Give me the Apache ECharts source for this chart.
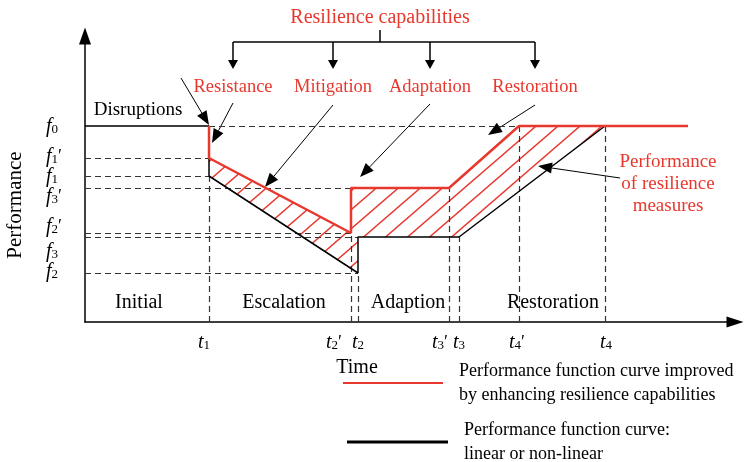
<!DOCTYPE html>
<html>
<head>
<meta charset="utf-8">
<script src="https://cdn.jsdelivr.net/npm/echarts@6/dist/echarts.min.js"></script>
<style>
  html, body { margin: 0; padding: 0; background: #fff; }
  #main { width: 754px; height: 462px; }
</style>
</head>
<body>
<div id="main"></div>
<script>
// time marks (x units) and performance levels (y units)
const tLabels = ['t1', "t2'", 't2', "t3'", 't3', "t4'", 't4']
const tValues = [124, 266, 273, 364, 374, 434, 520]
const tLabelAt = [119, 249, 273, 355, 374, 432, 521]

const fLabels = ['f0', "f1'", 'f1', "f3'", "f2'", 'f3', 'f2']
const fValues = [196, 164, 146, 134, 89, 85, 49]
const fLabelAt = [195, 165, 145, 125, 95, 70, 50]

// curves
const improvedX = [124, 124, 266, 266, 364, 434, 603]
const improvedY = [196, 164, 89, 134, 134, 196, 196]
const baselineX = [0, 124, 124, 273, 273, 374, 520]
const baselineY = [196, 196, 146, 49, 85, 85, 196]

const phaseNames = ['Initial', 'Escalation', 'Adaption', 'Restoration']
const phaseAt = [54, 199, 323, 468]

const capNames = ['Resistance', 'Mitigation', 'Adaptation', 'Restoration']
const capAt = [148, 248, 345, 450]

const nameImproved = 'Performance function curve improved\nby enhancing resilience capabilities'
const nameBase = 'Performance function curve:\nlinear or non-linear'

const RED = '#e8382e'
const FONT = '"Liberation Serif", "Times New Roman", serif'

const T = n => tValues[tLabels.indexOf(n)]
const F = n => fValues[fLabels.indexOf(n)]

// dashed guides
const guides = [
  [[0, F("f1'")], [T('t1'), F("f1'")]],
  [[0, F('f1')], [T('t1'), F('f1')]],
  [[0, F("f3'")], [T("t2'"), F("f3'")]],
  [[0, F("f2'")], [T("t2'"), F("f2'")]],
  [[0, F('f3')], [T('t2'), F('f3')]],
  [[0, F('f2')], [T('t2'), F('f2')]],
  [[T('t1'), F('f0')], [T("t4'"), F('f0')]],
  [[T('t1'), 0], [T('t1'), F('f1')]],
  [[T("t2'"), 0], [T("t2'"), F("f2'")]],
  [[T('t2'), 0], [T('t2'), F('f2')]],
  [[T("t3'"), 0], [T("t3'"), F("f3'")]],
  [[T('t3'), 0], [T('t3'), F('f3')]],
  [[T("t4'"), 0], [T("t4'"), F('f0')]],
  [[T('t4'), 0], [T('t4'), F('f0')]]
]

// hatched area between improved (top) and baseline (bottom) curves
const upper = improvedX.slice(1, 6).map((x, i) => [x, improvedY[i + 1]]).concat([[T('t4'), F('f0')]])
const lower = baselineX.slice(2).map((x, i) => [x, baselineY[i + 2]]).reverse()
const hatchPoly = upper.concat(lower)

const hatch = document.createElement('canvas')
hatch.width = 22
hatch.height = 19
const hc = hatch.getContext('2d')
hc.strokeStyle = RED
hc.lineWidth = 1.4
hc.beginPath()
hc.moveTo(0, 19); hc.lineTo(22, 0)
hc.moveTo(-5, 4); hc.lineTo(5, -4)
hc.moveTo(17, 23); hc.lineTo(27, 15)
hc.stroke()

const fmt = s => `{i|${s[0]}}{s|${s[1]}}` + (s[2] ? '{p|\u2032}' : '')
const labelRich = {
  i: { fontStyle: 'italic', fontSize: 20, lineHeight: 16, fontFamily: FONT, color: '#000' },
  s: { fontSize: 13, lineHeight: 10, padding: [6, 0, 0, 0], fontFamily: FONT, color: '#000' },
  p: { fontSize: 18, lineHeight: 16, fontFamily: FONT, color: '#000' }
}

const chart = echarts.init(document.getElementById('main'))
chart.setOption({
  animation: false,
  grid: { left: 85, right: 19, top: 36, bottom: 140 },
  legend: [{
    data: [nameImproved], left: 343, top: 359, padding: 0, selectedMode: false,
    icon: 'rect', itemWidth: 100, itemHeight: 2,
    textStyle: { fontSize: 18, fontFamily: FONT, color: '#000', lineHeight: 24, padding: [0, 0, 0, 11] }
  }, {
    data: [nameBase], left: 347, top: 418, padding: 0, selectedMode: false,
    icon: 'rect', itemWidth: 101, itemHeight: 3,
    textStyle: { fontSize: 18, fontFamily: FONT, color: '#000', lineHeight: 24, padding: [0, 0, 0, 11] }
  }],
  xAxis: {
    type: 'value', min: 0, max: 650,
    splitLine: { show: false },
    axisTick: { show: false },
    axisLine: { symbol: ['none', 'triangle'], symbolSize: [11, 17], lineStyle: { color: '#000', width: 1.5 } },
    axisLabel: {
      customValues: tLabelAt, margin: 13, hideOverlap: false,
      formatter: v => fmt(tLabels[tLabelAt.indexOf(v)]),
      rich: labelRich
    }
  },
  yAxis: {
    type: 'value', min: 0, max: 286,
    splitLine: { show: false },
    axisTick: { show: false },
    axisLine: { symbol: ['none', 'triangle'], symbolSize: [12, 17], lineStyle: { color: '#000', width: 1.5 } },
    axisLabel: {
      customValues: fLabelAt, margin: 39, align: 'left', hideOverlap: false,
      showMinLabel: true, showMaxLabel: true,
      formatter: v => fmt(fLabels[fLabelAt.indexOf(v)]),
      rich: labelRich
    }
  },
  series: [{
    type: 'custom',
    silent: true,
    z: 1,
    data: [[0, 0]],
    renderItem: (params, api) => ({
      type: 'polygon',
      shape: { points: hatchPoly.map(p => api.coord(p)) },
      style: { fill: { image: hatch, repeat: 'repeat' } }
    })
  }, {
    type: 'lines',
    coordinateSystem: 'cartesian2d',
    silent: true,
    z: 2,
    lineStyle: { color: '#333', width: 1.2, type: [6, 4], opacity: 1 },
    data: guides.map(c => ({ coords: c }))
  }, {
    name: nameBase,
    type: 'line',
    z: 3,
    showSymbol: false,
    color: '#000',
    lineStyle: { color: '#000', width: 1.5 },
    data: baselineX.map((x, i) => [x, baselineY[i]])
  }, {
    name: nameImproved,
    type: 'line',
    z: 4,
    showSymbol: false,
    color: RED,
    lineStyle: { color: RED, width: 2.5 },
    data: improvedX.map((x, i) => [x, improvedY[i]])
  }]
})

// annotations, placed in data units and converted through the axes
const toPx = p => chart.convertToPixel({ gridIndex: 0 }, p)

function arrow(from, to, len, hw, width) {
  const a = toPx(from), b = toPx(to)
  const dx = b[0] - a[0], dy = b[1] - a[1], d = Math.hypot(dx, dy)
  const ux = dx / d, uy = dy / d
  const bx = b[0] - ux * len, by = b[1] - uy * len
  return [
    { type: 'line', shape: { x1: a[0], y1: a[1], x2: bx, y2: by }, style: { stroke: '#000', lineWidth: width } },
    { type: 'polygon', shape: { points: [b, [bx - uy * hw, by + ux * hw], [bx + uy * hw, by - ux * hw]] }, style: { fill: '#000' } }
  ]
}

function text(str, p, size, color, extra) {
  const q = toPx(p)
  return Object.assign({
    type: 'text', x: q[0], y: q[1],
    style: { text: str, fontSize: size, fontFamily: FONT, fill: color, align: 'center', verticalAlign: 'middle', lineHeight: 22 }
  }, extra || {})
}

const g = []
// bracket of resilience capabilities
g.push(text('Resilience capabilities', [295, 304], 20, RED))
const s0 = toPx([295, 292]), s1 = toPx([295, 280])
g.push({ type: 'line', shape: { x1: s0[0], y1: s0[1], x2: s1[0], y2: s1[1] }, style: { stroke: '#000', lineWidth: 1.5 } })
const b0 = toPx([capAt[0], 280]), b1 = toPx([capAt[3], 280])
g.push({ type: 'line', shape: { x1: b0[0], y1: b0[1], x2: b1[0], y2: b1[1] }, style: { stroke: '#000', lineWidth: 1.5 } })
capAt.forEach((x, i) => {
  g.push(...arrow([x, 280], [x, 253], 9, 5, 1.5))
  g.push(text(capNames[i], [x, 235], 18.5, RED))
})

// pointers from labels to the curves
g.push(...arrow([96, 244], [T('t1'), F('f0') + 1], 14, 5.5, 1))
g.push(...arrow([148, 219], [127, 179], 14, 5.5, 1))
g.push(...arrow([248, 217], [180, 135], 14, 5.5, 1))
g.push(...arrow([345, 218], [275, 145], 14, 5.5, 1))
g.push(...arrow([450, 217], [403, 187], 14, 5.5, 1))
g.push(...arrow([535, 144], [453, 156], 14, 5.5, 1))

g.push(text('Disruptions', [53, 212], 19, '#000'))
g.push(text('Performance\nof resilience\nmeasures', [583, 138], 19, RED))

phaseNames.forEach((n, i) => g.push(text(n, [phaseAt[i], 19], 20, '#000')))
g.push(text('Time', [272, -46], 20, '#000'))
g.push(text('Performance', [-70, 117], 21, '#000', { rotation: Math.PI / 2 }))

chart.setOption({ graphic: g })
</script>
</body>
</html>
